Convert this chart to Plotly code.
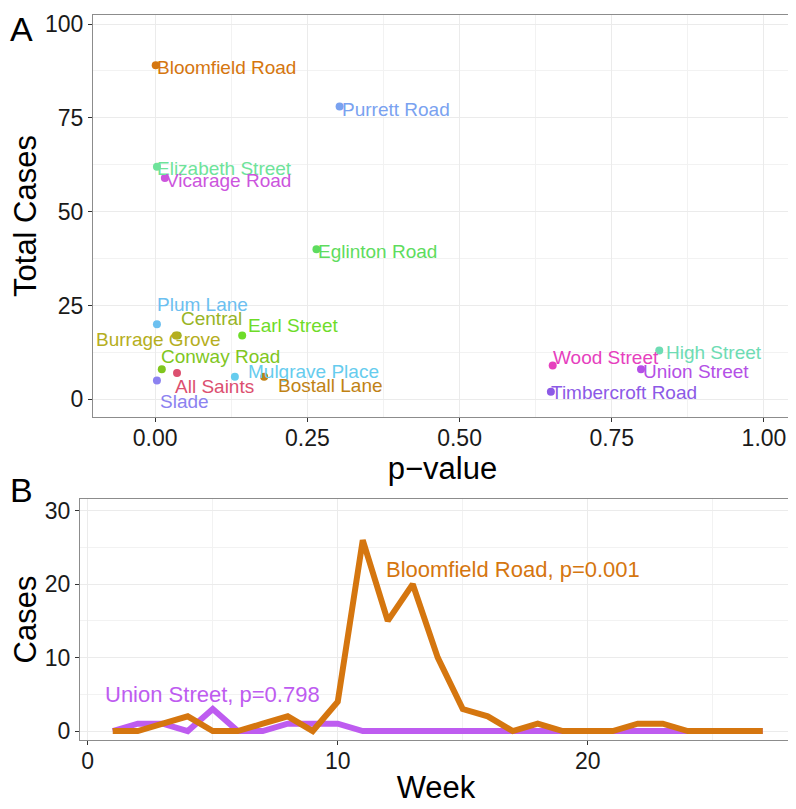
import plotly.graph_objects as go

# ---------------- Panel A data ----------------
sites = ["Bloomfield Road", "Purrett Road", "Elizabeth Street", "Vicarage Road",
         "Eglinton Road", "Plum Lane", "Central", "Burrage Grove", "Earl Street",
         "Conway Road", "All Saints", "Slade", "Mulgrave Place", "Bostall Lane",
         "High Street", "Wood Street", "Union Street", "Timbercroft Road"]
p_values = [0.001, 0.303, 0.003, 0.016, 0.265, 0.003, 0.037, 0.034, 0.143,
            0.011, 0.036, 0.003, 0.131, 0.179, 0.828, 0.653, 0.798, 0.650]
total_cases = [89, 78, 62, 59, 40, 20, 17, 17, 17, 8, 7, 5, 6, 6, 13, 9, 8, 2]
site_colors = ["#D5760F", "#7AA2F0", "#6EE39A", "#CC55DD", "#5EDC5E", "#6CC0F0",
               "#98B425", "#B5AE20", "#6EDC28", "#80C61E", "#DC5070", "#8C82F0",
               "#66CCEE", "#C08214", "#6EDCB4", "#E640BE", "#B450E6", "#8C5AE6"]
# repelled label anchor positions (left edge, vertical centre) in data units
label_x = [0.000, 0.303, 0.000, 0.015, 0.264, 0.000, 0.040, -0.100, 0.149,
           0.007, 0.030, 0.004, 0.149, 0.198, 0.836, 0.650, 0.798, 0.647]
label_y = [88.3, 77.1, 61.5, 58.4, 39.4, 25.4, 21.5, 15.9, 19.7,
           11.4, 3.3, -0.5, 7.4, 3.7, 12.6, 11.2, 7.3, 1.8]

# ---------------- Panel B data ----------------
weeks = list(range(1, 28))
bloomfield_weekly = [0, 0, 1, 2, 0, 0, 1, 2, 0, 4, 26, 15, 20, 10, 3, 2, 0, 1,
                     0, 0, 0, 1, 1, 0, 0, 0, 0]
union_weekly = [0, 1, 1, 0, 3, 0, 0, 1, 1, 1, 0, 0, 0, 0, 0, 0, 0, 0,
                0, 0, 0, 0, 0, 0, 0, 0, 0]
union_label = "Union Street, p=0.798"
bloomfield_label = "Bloomfield Road, p=0.001"

FONT = "Liberation Sans, Arial, sans-serif"
OFF = 8                      # page body margin
W, H = 796 - OFF, 809 - OFF  # figure size so it fills the window


def fx(px):
    return (px - OFF) / W


def fy(py):
    return 1 - (py - OFF) / H


fig = go.Figure()

fig.add_trace(go.Scatter(
    x=p_values, y=total_cases, mode="markers",
    marker=dict(color=site_colors, size=8, line=dict(width=0)),
    text=sites, hoverinfo="text", showlegend=False,
    xaxis="x", yaxis="y"))

fig.add_trace(go.Scatter(
    x=weeks, y=union_weekly, mode="lines",
    line=dict(color="#BE5CF0", width=6), showlegend=False,
    xaxis="x2", yaxis="y2"))
fig.add_trace(go.Scatter(
    x=weeks, y=bloomfield_weekly, mode="lines",
    line=dict(color="#D5760F", width=6), showlegend=False,
    xaxis="x2", yaxis="y2"))

annotations = []
for name, lx, ly, c in zip(sites, label_x, label_y, site_colors):
    annotations.append(dict(x=lx, y=ly, xref="x", yref="y", text=name,
                            showarrow=False, xanchor="left", yanchor="middle",
                            font=dict(family=FONT, size=19, color=c)))
annotations.append(dict(x=5, y=5, xref="x2", yref="y2", text=union_label,
                        showarrow=False, xanchor="center", yanchor="middle",
                        font=dict(family=FONT, size=22, color="#BE5CF0")))
annotations.append(dict(x=17, y=22, xref="x2", yref="y2", text=bloomfield_label,
                        showarrow=False, xanchor="center", yanchor="middle",
                        font=dict(family=FONT, size=22, color="#D5760F")))
annotations.append(dict(x=0, y=1, xref="paper", yref="paper", text="A",
                        showarrow=False, xanchor="left", yanchor="top",
                        font=dict(family=FONT, size=34, color="black")))
annotations.append(dict(x=0, y=fy(490), xref="paper", yref="paper", text="B",
                        showarrow=False, xanchor="left", yanchor="middle",
                        font=dict(family=FONT, size=34, color="black")))

axis_common = dict(
    showline=True, mirror=True, linecolor="#8C8C8C", linewidth=1,
    ticks="outside", ticklen=4, tickwidth=1, tickcolor="#333333",
    tickfont=dict(family=FONT, size=23, color="#1A1A1A"),
    gridcolor="#EBEBEB", gridwidth=1.2, zeroline=False, automargin=False,
)
title_font = dict(family=FONT, size=31, color="black")
minor_grid = dict(showgrid=True, gridcolor="#F2F2F2", gridwidth=0.7)

fig.update_layout(
    width=W, height=H,
    margin=dict(l=0, r=0, t=0, b=0),
    paper_bgcolor="white", plot_bgcolor="white",
    font=dict(family=FONT),
    annotations=annotations,
    xaxis=dict(**axis_common, domain=[fx(93), fx(792)], range=[-0.102, 1.046],
               tickvals=[0, 0.25, 0.5, 0.75, 1.0],
               ticktext=["0.00", "0.25", "0.50", "0.75", "1.00"],
               ticklabelstandoff=-4,
               minor=dict(**minor_grid, tickvals=[-0.125, 0.125, 0.375, 0.625, 0.875]),
               title=dict(text="p\u2212value", font=title_font, standoff=0),
               anchor="y"),
    yaxis=dict(**axis_common, domain=[fy(417), fy(15)], range=[-4.7, 102.4],
               tickvals=[0, 25, 50, 75, 100],
               minor=dict(**minor_grid, tickvals=[12.5, 37.5, 62.5, 87.5]),
               title=dict(text="Total Cases", font=title_font, standoff=6),
               anchor="x"),
    xaxis2=dict(**axis_common, domain=[fx(80), fx(792)], range=[-0.31, 28.17],
                tickvals=[0, 10, 20], ticklabelstandoff=-4,
                minor=dict(**minor_grid, tickvals=[5, 15, 25]),
                title=dict(text="Week", font=title_font, standoff=3),
                anchor="y2"),
    yaxis2=dict(**axis_common, domain=[fy(740), fy(499)], range=[-1.22, 31.6],
                tickvals=[0, 10, 20, 30],
                minor=dict(**minor_grid, tickvals=[5, 15, 25]),
                title=dict(text="Cases", font=title_font, standoff=6),
                anchor="x2"),
)

fig.write_html("out.html")
